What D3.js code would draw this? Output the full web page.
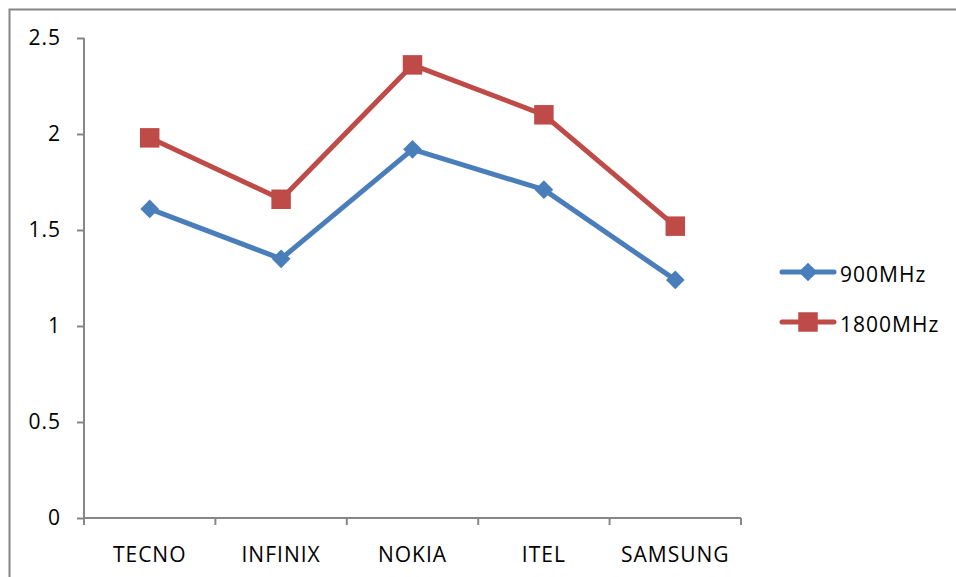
<!DOCTYPE html>
<html>
<head>
<meta charset="utf-8">
<script src="https://cdn.jsdelivr.net/npm/d3@7"></script>
<style>
  body { margin: 0; background: #fff; }
  text { font-family: "Open Sans", "Noto Sans", sans-serif; fill: #000; letter-spacing: 1px; }
</style>
</head>
<body>
<svg id="chart" width="956" height="577"></svg>
<script>
'use strict';

// chart data
const brands = ['TECNO', 'INFINIX', 'NOKIA', 'ITEL', 'SAMSUNG'];
const mhz900 = [1.61, 1.35, 1.92, 1.71, 1.24];
const mhz1800 = [1.98, 1.66, 2.36, 2.10, 1.52];
const yTicks = [0, 0.5, 1, 1.5, 2, 2.5];
const seriesNames = ['900MHz', '1800MHz'];

const svg = d3.select('#chart');
const plotLeft = 84, plotRight = 741, plotTop = 38, plotBottom = 518;
const axisColor = '#868686';
const fontSize = 21;

// outer frame
svg.append('rect')
    .attr('x', 9.5).attr('y', 9.5)
    .attr('width', 980).attr('height', 600)
    .attr('fill', 'none')
    .attr('stroke', axisColor)
    .attr('stroke-width', 2);

const x = d3.scaleBand().domain(brands).range([plotLeft, plotRight]);
const y = d3.scaleLinear().domain([0, 2.5]).range([plotBottom, plotTop]);

// y axis
const yAxis = svg.append('g')
    .attr('transform', `translate(${plotLeft},0)`)
    .call(d3.axisLeft(y).tickValues(yTicks).tickSize(7).tickPadding(16)
        .tickFormat(d => String(d)));
yAxis.selectAll('path, line').attr('stroke', axisColor).attr('stroke-width', 2);
yAxis.select('.domain').attr('d', `M0,${plotTop}V${plotBottom}`);
yAxis.selectAll('text').attr('font-size', fontSize).attr('font-family', null).attr('fill', '#000');

// x axis, ticks at category boundaries
const xg = svg.append('g').attr('transform', `translate(0,${plotBottom})`);
xg.append('line')
    .attr('x1', plotLeft).attr('x2', plotRight)
    .attr('stroke', axisColor).attr('stroke-width', 2);
const bounds = brands.map(b => x(b)).concat([plotRight]);
xg.selectAll('.tk').data(bounds).enter().append('line')
    .attr('x1', d => d).attr('x2', d => d)
    .attr('y1', 0).attr('y2', 7)
    .attr('stroke', axisColor).attr('stroke-width', 2);
xg.selectAll('.lbl').data(brands).enter().append('text')
    .attr('x', d => x(d) + x.bandwidth() / 2)
    .attr('y', 44)
    .attr('text-anchor', 'middle')
    .attr('font-size', fontSize)
    .text(d => d);

const series = [
    { name: seriesNames[0], values: mhz900, color: '#4A7EBB', size: 175, rot: 45 },
    { name: seriesNames[1], values: mhz1800, color: '#BE4B48', size: 380, rot: 0 }
];

const line = d3.line()
    .x((d, i) => x(brands[i]) + x.bandwidth() / 2)
    .y(d => y(d));

series.forEach(s => {
    svg.append('path')
        .datum(s.values)
        .attr('d', line)
        .attr('fill', 'none')
        .attr('stroke', s.color)
        .attr('stroke-width', 5)
        .attr('stroke-linejoin', 'round');
    svg.selectAll(null).data(s.values).enter().append('path')
        .attr('d', d3.symbol().type(d3.symbolSquare).size(s.size))
        .attr('transform', (d, i) => `translate(${x(brands[i]) + x.bandwidth() / 2},${y(d)}) rotate(${s.rot})`)
        .attr('fill', s.color);
});

// legend
const legend = svg.append('g');
series.forEach((s, i) => {
    const ly = 272 + i * 50;
    legend.append('line')
        .attr('x1', 782).attr('x2', 834)
        .attr('y1', ly).attr('y2', ly)
        .attr('stroke', s.color).attr('stroke-width', 5)
        .attr('stroke-linecap', 'round');
    legend.append('path')
        .attr('d', d3.symbol().type(d3.symbolSquare).size(s.size))
        .attr('transform', `translate(808,${ly}) rotate(${s.rot})`)
        .attr('fill', s.color);
    legend.append('text')
        .attr('x', 840).attr('y', ly + 10)
        .attr('font-size', fontSize)
        .text(s.name);
});
</script>
</body>
</html>
